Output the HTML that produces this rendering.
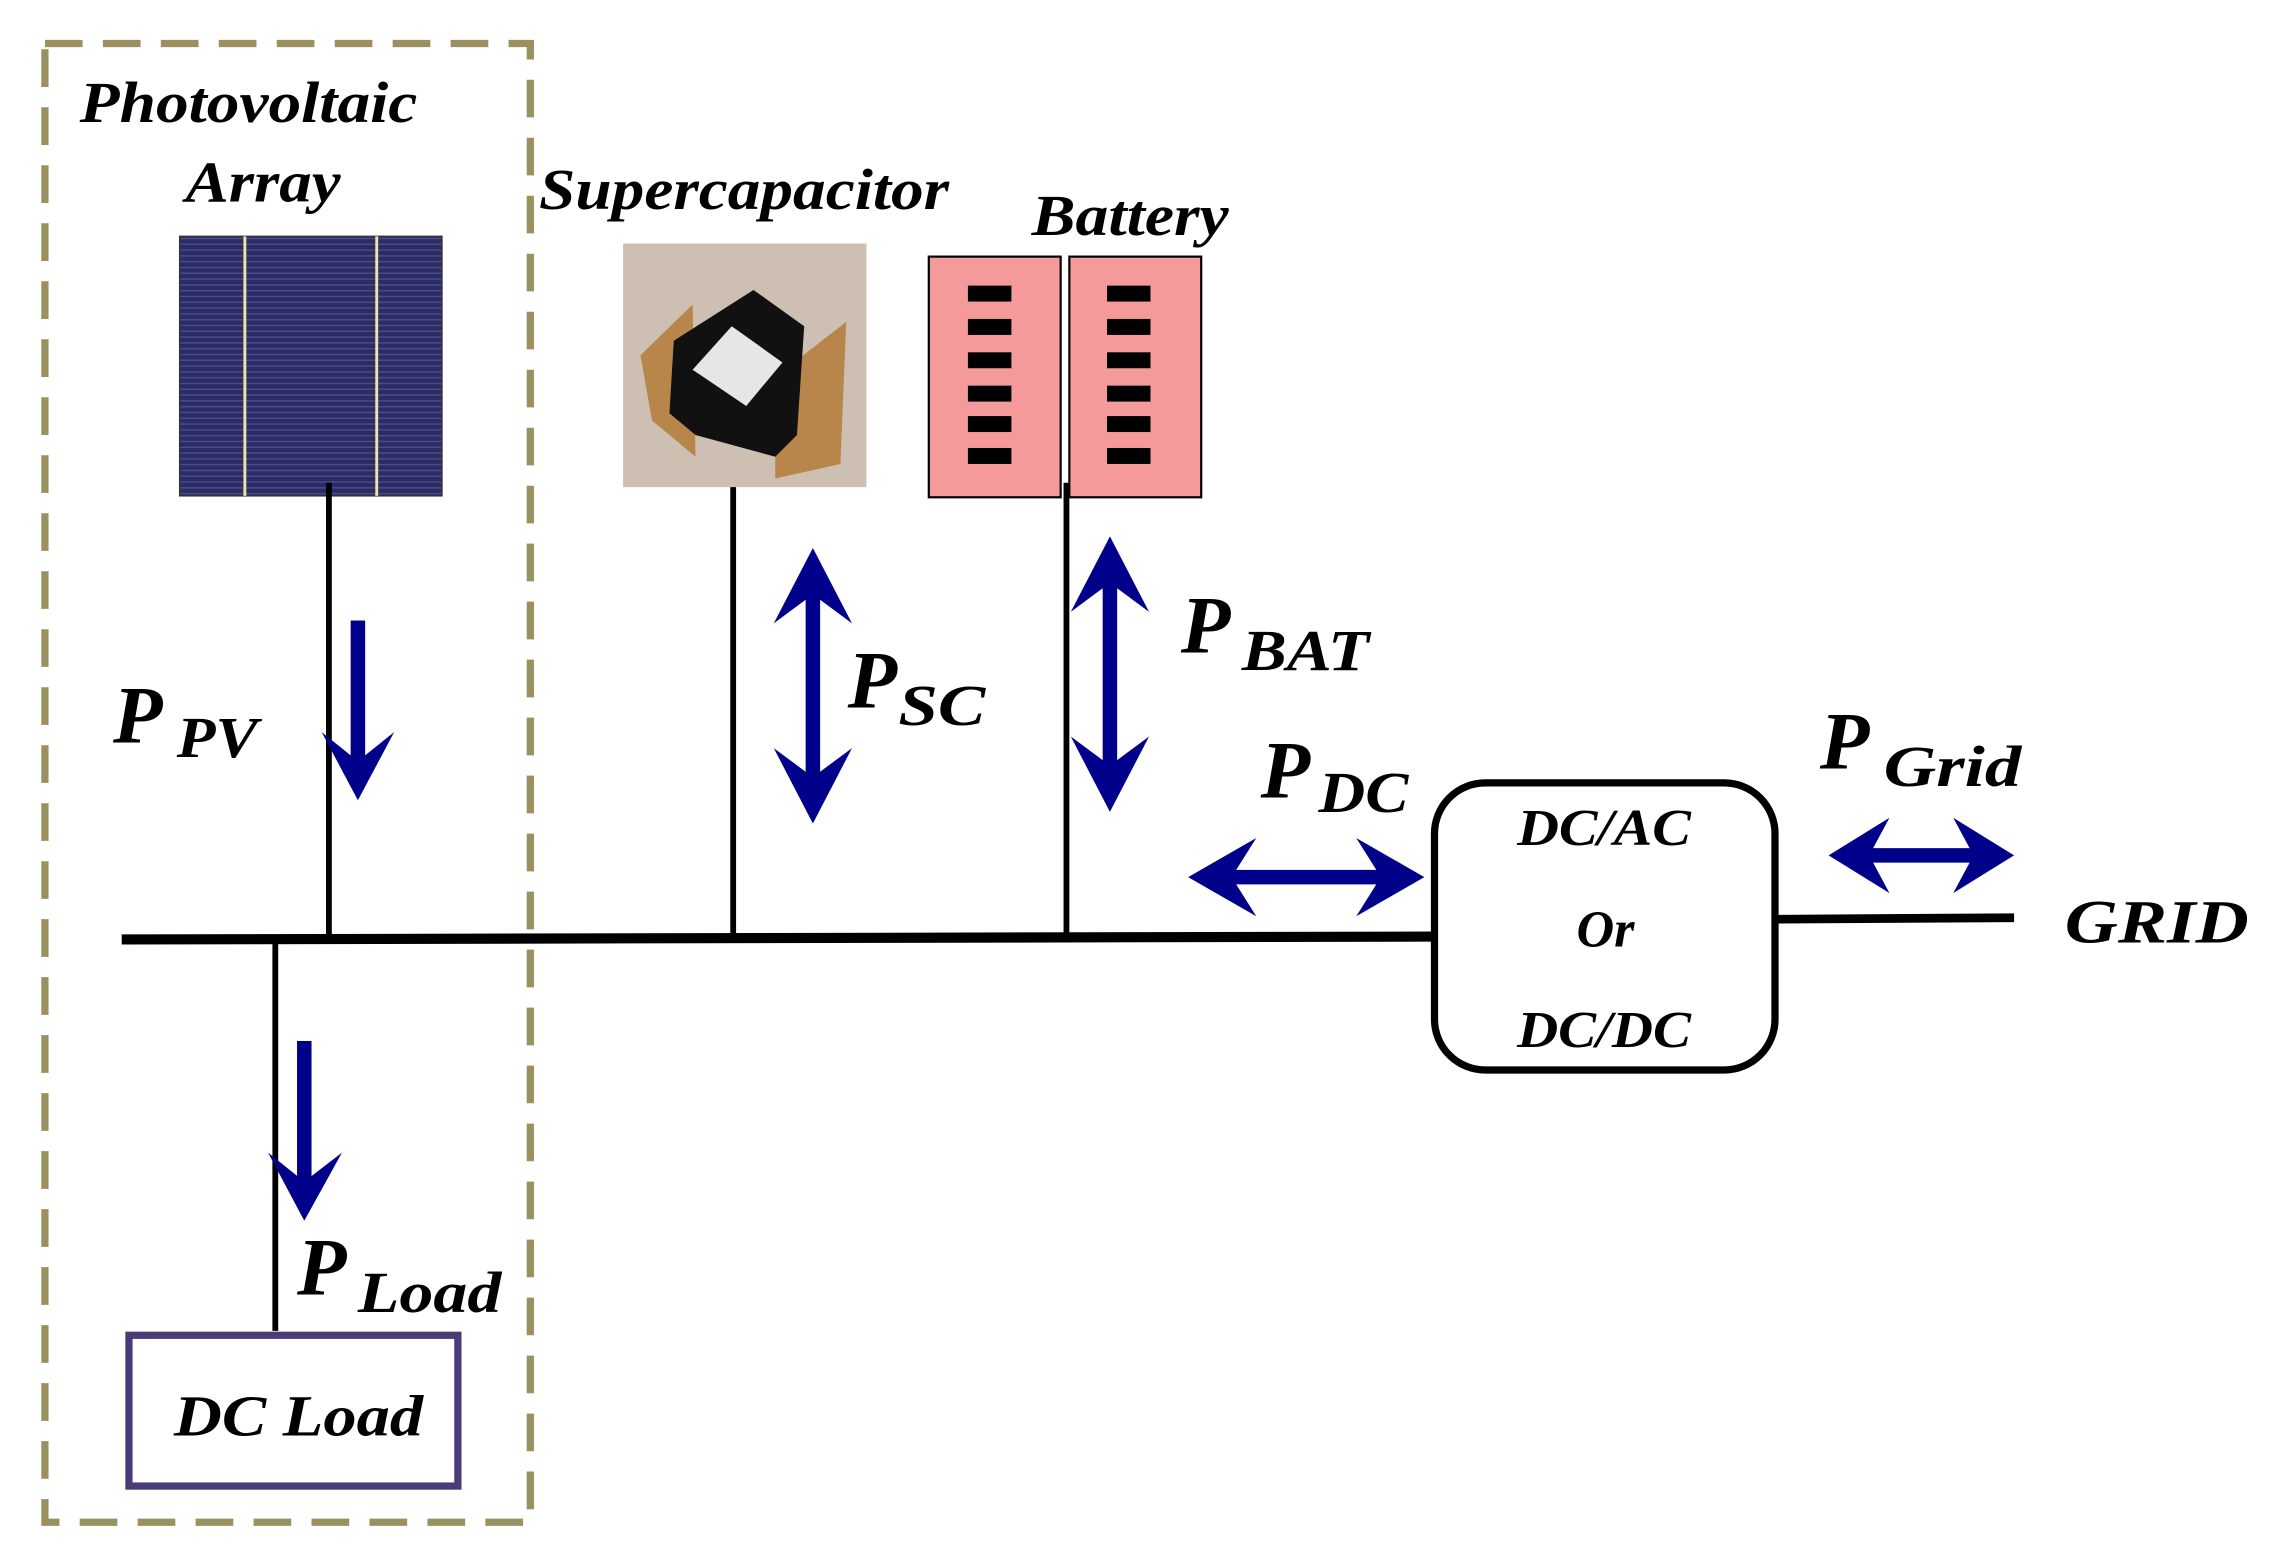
<!DOCTYPE html>
<html><head><meta charset="utf-8"><style>
html,body{margin:0;padding:0;background:#fff}
svg{display:block}
text{font-family:"Liberation Serif",serif;font-weight:bold;font-style:italic;fill:#000}
</style></head><body>
<svg width="2272" height="1560" viewBox="0 0 1568 1076" preserveAspectRatio="none" xmlns="http://www.w3.org/2000/svg">
<defs>
<pattern id="pvl" width="4" height="4" patternUnits="userSpaceOnUse"><rect width="4" height="4" fill="#2b2c63"/><rect width="4" height="1" fill="#4a4b8e"/></pattern>
</defs>
<rect x="31" y="30" width="335" height="1020" fill="none" stroke="#9a9060" stroke-width="5" stroke-dasharray="26,14"/>
<text x="55" y="84" font-size="40" textLength="233" lengthAdjust="spacingAndGlyphs">Photovoltaic</text>
<text x="128" y="139" font-size="40" textLength="107" lengthAdjust="spacingAndGlyphs">Array</text>
<rect x="124" y="163" width="181" height="179" fill="url(#pvl)" stroke="#333" stroke-width="1"/>
<line x1="169" y1="163" x2="169" y2="342" stroke="#e8e8a0" stroke-width="2"/>
<line x1="260" y1="163" x2="260" y2="342" stroke="#e8e8a0" stroke-width="2"/>
<text x="372" y="144" font-size="40" textLength="283" lengthAdjust="spacingAndGlyphs">Supercapacitor</text>
<rect x="430" y="168" width="168" height="168" fill="#cdbfb2"/>
<polygon points="442,245 478,210 480,315 450,290" fill="#b8864a"/>
<polygon points="535,260 584,222 580,320 535,330" fill="#b8864a"/>
<polygon points="465,235 520,200 555,225 550,300 535,315 480,300 462,285" fill="#111"/>
<polygon points="478,255 505,225 540,250 515,280" fill="#e6e6e6"/>
<text x="712" y="162" font-size="40" textLength="136" lengthAdjust="spacingAndGlyphs">Battery</text>
<rect x="641" y="177" width="91" height="166" fill="#f59a9a" stroke="#000" stroke-width="1.5"/>
<rect x="738" y="177" width="91" height="166" fill="#f59a9a" stroke="#000" stroke-width="1.5"/>
<g fill="#000">
<rect x="668" y="197" width="30" height="11"/><rect x="668" y="220" width="30" height="11"/><rect x="668" y="243" width="30" height="11"/><rect x="668" y="266" width="30" height="11"/><rect x="668" y="287" width="30" height="11"/><rect x="668" y="309" width="30" height="11"/>
<rect x="764" y="197" width="30" height="11"/><rect x="764" y="220" width="30" height="11"/><rect x="764" y="243" width="30" height="11"/><rect x="764" y="266" width="30" height="11"/><rect x="764" y="287" width="30" height="11"/><rect x="764" y="309" width="30" height="11"/>
</g>
<g stroke="#000" stroke-width="4">
<line x1="227" y1="333" x2="227" y2="648"/>
<line x1="506" y1="336" x2="506" y2="646"/>
<line x1="736" y1="333" x2="736" y2="646"/>
<line x1="190" y1="648" x2="190" y2="918"/>
</g>
<line x1="84" y1="648" x2="990" y2="646" stroke="#000" stroke-width="7"/>
<line x1="1225" y1="634" x2="1390" y2="633" stroke="#000" stroke-width="6"/>
<g fill="#00008b" stroke="none">
<rect x="242" y="428" width="10" height="100"/>
<polygon points="247,552 222,505 247,525 272,505"/>
<rect x="205" y="718" width="10" height="100"/>
<polygon points="210,842 185,795 210,815 236,795"/>
<rect x="556" y="400" width="10" height="145"/>
<polygon points="561,378 534,430 561,410 588,430"/>
<polygon points="561,568 534,516 561,536 588,516"/>
<rect x="761" y="392" width="10" height="145"/>
<polygon points="766,370 739,422 766,402 793,422"/>
<polygon points="766,560 739,508 766,528 793,508"/>
<rect x="845" y="600" width="112" height="10"/>
<polygon points="820,605 867,578 850,605 867,632"/>
<polygon points="983,605 936,578 953,605 936,632"/>
<rect x="1285" y="585" width="82" height="10"/>
<polygon points="1262,590 1304,564 1290,590 1304,616"/>
<polygon points="1390,590 1348,564 1362,590 1348,616"/>
</g>
<text x="78" y="512" font-size="56">P</text><text x="122" y="522" font-size="40" textLength="56" lengthAdjust="spacingAndGlyphs">PV</text>
<text x="585" y="488" font-size="56">P</text><text x="620" y="500" font-size="40" textLength="60" lengthAdjust="spacingAndGlyphs">SC</text>
<text x="815" y="450" font-size="56">P</text><text x="857" y="462" font-size="40" textLength="88" lengthAdjust="spacingAndGlyphs">BAT</text>
<text x="870" y="550" font-size="56">P</text><text x="910" y="560" font-size="40" textLength="62" lengthAdjust="spacingAndGlyphs">DC</text>
<text x="1256" y="530" font-size="56">P</text><text x="1300" y="542" font-size="40" textLength="95" lengthAdjust="spacingAndGlyphs">Grid</text>
<text x="205" y="893" font-size="56">P</text><text x="247" y="905" font-size="40" textLength="99" lengthAdjust="spacingAndGlyphs">Load</text>
<text x="1425" y="650" font-size="42" textLength="127" lengthAdjust="spacingAndGlyphs">GRID</text>
<rect x="990" y="540" width="235" height="198" rx="35" fill="#fff" stroke="#000" stroke-width="5"/>
<text x="1047" y="583" font-size="36" textLength="120" lengthAdjust="spacingAndGlyphs">DC/AC</text>
<text x="1088" y="653" font-size="36" textLength="40" lengthAdjust="spacingAndGlyphs">Or</text>
<text x="1047" y="722" font-size="36" textLength="120" lengthAdjust="spacingAndGlyphs">DC/DC</text>
<rect x="89" y="921" width="227" height="104" fill="#fff" stroke="#4b3a78" stroke-width="5"/>
<text x="120" y="990" font-size="40" textLength="172" lengthAdjust="spacingAndGlyphs">DC Load</text>
</svg>
</body></html>
